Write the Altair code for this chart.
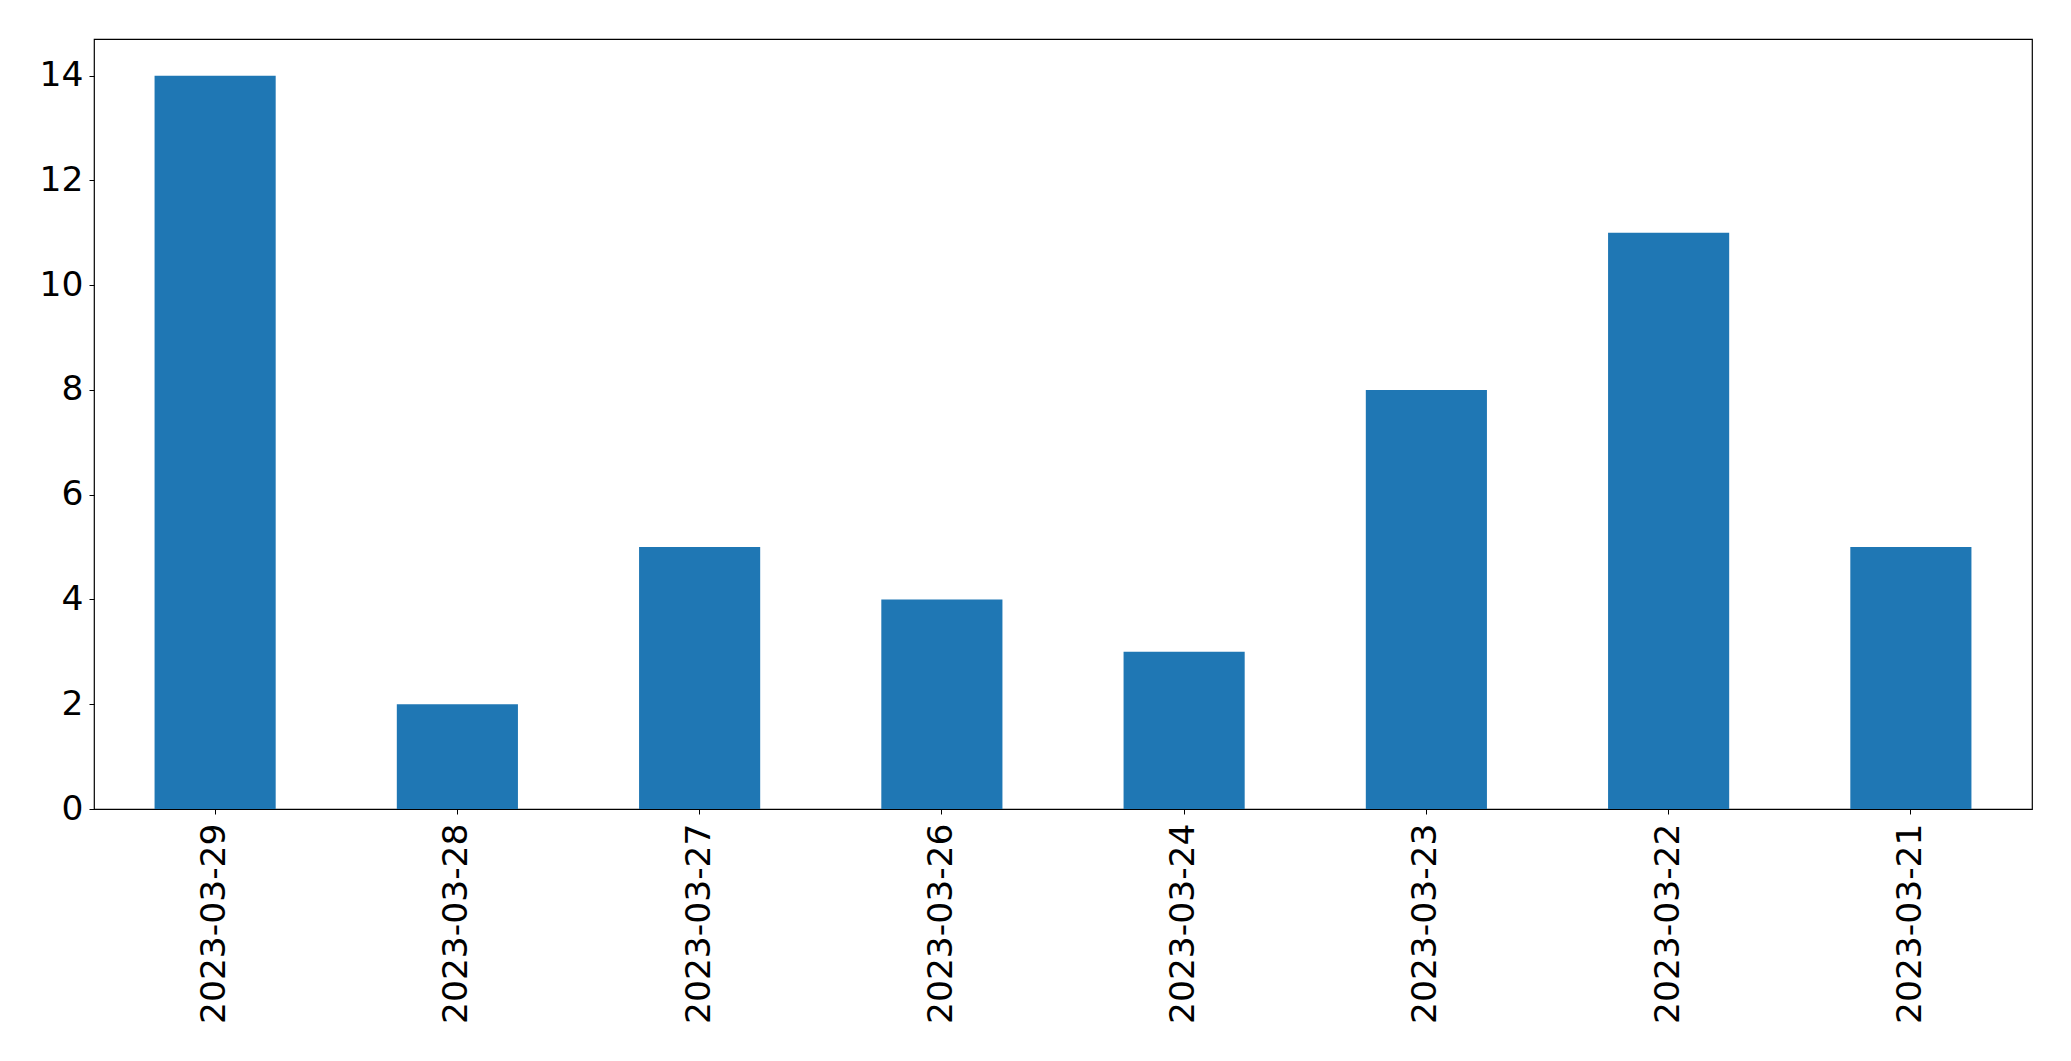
import altair as alt
import pandas as pd

dates = ["2023-03-29", "2023-03-28", "2023-03-27", "2023-03-26",
         "2023-03-24", "2023-03-23", "2023-03-22", "2023-03-21"]
counts = [14, 2, 5, 4, 3, 8, 11, 5]
y_ticks = [0, 2, 4, 6, 8, 10, 12, 14]

df = pd.DataFrame({"date": dates, "count": counts})

chart = alt.Chart(df).mark_bar(color="#1f77b4").encode(
    x=alt.X("date:N", sort=dates, title=None,
            scale=alt.Scale(paddingInner=0.5, paddingOuter=0.25),
            axis=alt.Axis(labelAngle=270, labelAlign="right", labelBaseline="middle",
                          labelFont="DejaVu Sans", labelFontSize=34.5, labelColor="black",
                          labelLimit=0,
                          tickColor="black", tickSize=5, tickWidth=1, labelPadding=9,
                          domain=False, grid=False)),
    y=alt.Y("count:Q", title=None,
            scale=alt.Scale(domain=[0, 14.7], nice=False, zero=True),
            axis=alt.Axis(values=y_ticks, labelFont="DejaVu Sans", labelFontSize=34.5,
                          labelColor="black", tickColor="black", tickSize=5, tickWidth=1,
                          labelPadding=6, domain=False, grid=False)),
).properties(
    width=1938, height=770,
    autosize=alt.AutoSizeParams(type="none"),
    padding={"left": 86, "top": 31, "right": 20, "bottom": 240},
).configure_view(
    stroke="black", strokeWidth=1.2
)

chart.save("out.html", embed_options={"renderer": "svg", "actions": False})
